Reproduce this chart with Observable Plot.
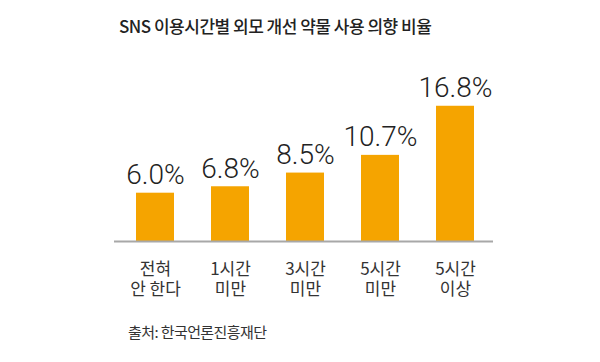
<!DOCTYPE html>
<html>
<head>
<meta charset="utf-8">
<script src="https://cdn.jsdelivr.net/npm/d3@7"></script>
<script src="https://cdn.jsdelivr.net/npm/@observablehq/plot@0.6"></script>
<style>
  html, body { margin: 0; padding: 0; background: #fff; }
  body { width: 600px; height: 362px; overflow: hidden; font-family: "Noto Sans CJK KR", sans-serif; }
  #title { height: 48px; box-sizing: border-box; padding: 14px 0 0 119px; font-size: 17px; font-weight: 500; color: #222; letter-spacing: -0.5px; line-height: 24px; white-space: nowrap; }
  #caption { padding: 12px 0 0 128px; font-size: 15px; color: #333; letter-spacing: -0.6px; line-height: 20px; white-space: nowrap; }
  svg { display: block; }
</style>
</head>
<body>
<div id="title">SNS 이용시간별 외모 개선 약물 사용 의향 비율</div>
<div id="chart"></div>
<div id="caption">출처: 한국언론진흥재단</div>
<script>
const categories = ["전혀\n안 한다", "1시간\n미만", "3시간\n미만", "5시간\n미만", "5시간\n이상"];
const values = [6.0, 6.8, 8.5, 10.7, 16.8];
const valueLabels = ["6.0%", "6.8%", "8.5%", "10.7%", "16.8%"];

const data = categories.map((c, i) => ({category: c, value: values[i], label: valueLabels[i]}));

const chart = Plot.plot({
  width: 600,
  height: 262,
  marginLeft: 97,
  marginRight: 86,
  marginTop: 32,
  marginBottom: 69,
  style: {fontFamily: "'Noto Sans CJK KR', sans-serif", background: "#fff"},
  x: {domain: categories, paddingInner: 0.487, paddingOuter: 0.487, label: null},
  y: {domain: [0, 20], axis: null},
  marks: [
    Plot.barY(data, {x: "category", y: "value", fill: "#F5A400"}),
    Plot.ruleY([0], {stroke: "#a8a8a8", strokeWidth: 2, insetLeft: 17, insetRight: 21}),
    Plot.text(data, {x: "category", y: "value", text: "label", lineAnchor: "bottom", dy: -9,
      fontFamily: "Roboto, sans-serif", fontWeight: 300, fontSize: 28, fill: "#222"}),
    Plot.axisX({tickSize: 0, tickPadding: 20, fontSize: 17, lineHeight: 1.15, color: "#333", label: null})
  ]
});
document.getElementById("chart").appendChild(chart);
</script>
</body>
</html>
